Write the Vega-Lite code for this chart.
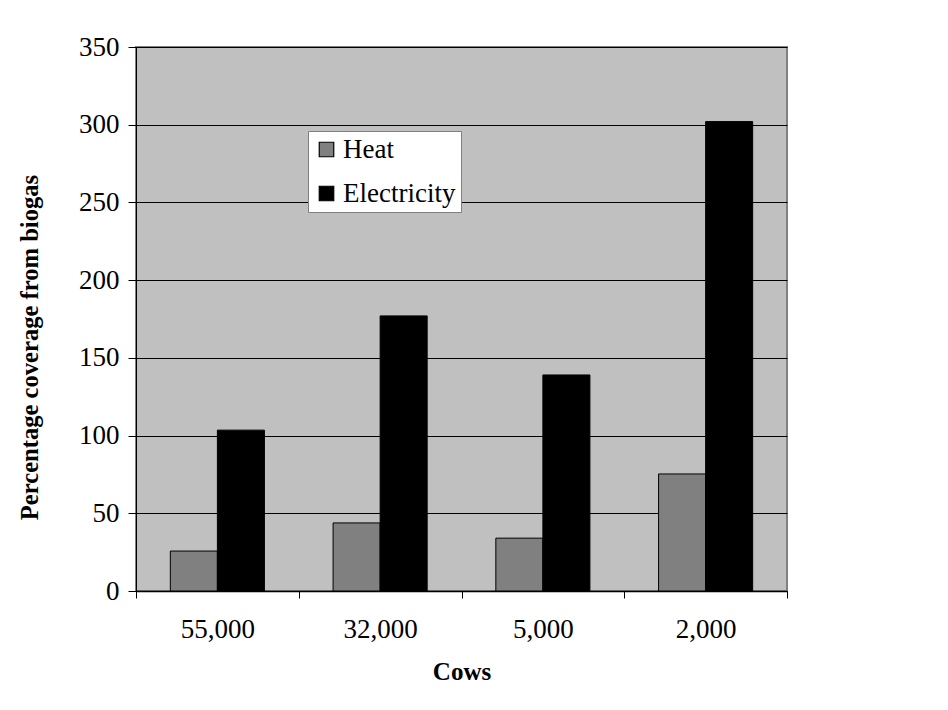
{
  "$schema": "https://vega.github.io/schema/vega-lite/v6.json",
  "width": 651,
  "height": 544,
  "autosize": {"type": "none"},
  "padding": {"left": 136, "top": 47, "right": 161, "bottom": 119},
  "background": "white",
  "data": {
    "values": [
      {"cows": "55,000", "type": "Heat", "value": 25.7},
      {"cows": "55,000", "type": "Electricity", "value": 103.5},
      {"cows": "32,000", "type": "Heat", "value": 43.8},
      {"cows": "32,000", "type": "Electricity", "value": 177},
      {"cows": "5,000", "type": "Heat", "value": 34},
      {"cows": "5,000", "type": "Electricity", "value": 139},
      {"cows": "2,000", "type": "Heat", "value": 75.3},
      {"cows": "2,000", "type": "Electricity", "value": 302}
    ]
  },
  "mark": {"type": "bar", "stroke": "black", "strokeWidth": 1},
  "encoding": {
    "x": {
      "field": "cows",
      "type": "nominal",
      "sort": ["55,000", "32,000", "5,000", "2,000"],
      "scale": {"paddingInner": 0, "paddingOuter": 0},
      "axis": {
        "title": "Cows",
        "titleFont": "Liberation Serif",
        "titleFontSize": 25,
        "titleFontWeight": "bold",
        "titleColor": "black",
        "titlePadding": 17,
        "labelFont": "Liberation Serif",
        "labelFontSize": 27,
        "labelColor": "black",
        "labelAngle": 0,
        "labelPadding": 18,
        "tickBand": "extent",
        "tickSize": 7,
        "tickColor": "black",
        "domainColor": "black",
        "domainWidth": 1.5
      }
    },
    "xOffset": {
      "field": "type",
      "type": "nominal",
      "sort": ["Heat", "Electricity"],
      "scale": {"paddingInner": 0, "paddingOuter": 0.73}
    },
    "y": {
      "field": "value",
      "type": "quantitative",
      "scale": {"domain": [0, 350], "nice": false},
      "axis": {
        "values": [0, 50, 100, 150, 200, 250, 300, 350],
        "title": "Percentage coverage from biogas",
        "titleFont": "Liberation Serif",
        "titleFontSize": 24.6,
        "titleFontWeight": "bold",
        "titleColor": "black",
        "titlePadding": 36,
        "titleY": 300,
        "labelFont": "Liberation Serif",
        "labelFontSize": 27,
        "labelColor": "black",
        "labelPadding": 9,
        "tickSize": 8,
        "tickColor": "black",
        "domainColor": "black",
        "grid": true,
        "gridColor": "black",
        "gridWidth": 1.2
      }
    },
    "color": {
      "field": "type",
      "type": "nominal",
      "sort": ["Heat", "Electricity"],
      "scale": {"domain": ["Heat", "Electricity"], "range": ["#808080", "#000000"]},
      "legend": {
        "title": null,
        "orient": "none",
        "legendX": 172,
        "legendY": 84,
        "fillColor": "white",
        "strokeColor": "#808080",
        "padding": 5,
        "symbolType": "square",
        "symbolSize": 210,
        "symbolStrokeColor": "black",
        "symbolStrokeWidth": 1.2,
        "symbolOpacity": 1,
        "labelFont": "Liberation Serif",
        "labelFontSize": 27,
        "labelColor": "black",
        "labelOffset": 3,
        "rowPadding": 16
      }
    }
  },
  "config": {
    "view": {"fill": "#C0C0C0", "stroke": "#808080", "strokeWidth": 2}
  }
}
